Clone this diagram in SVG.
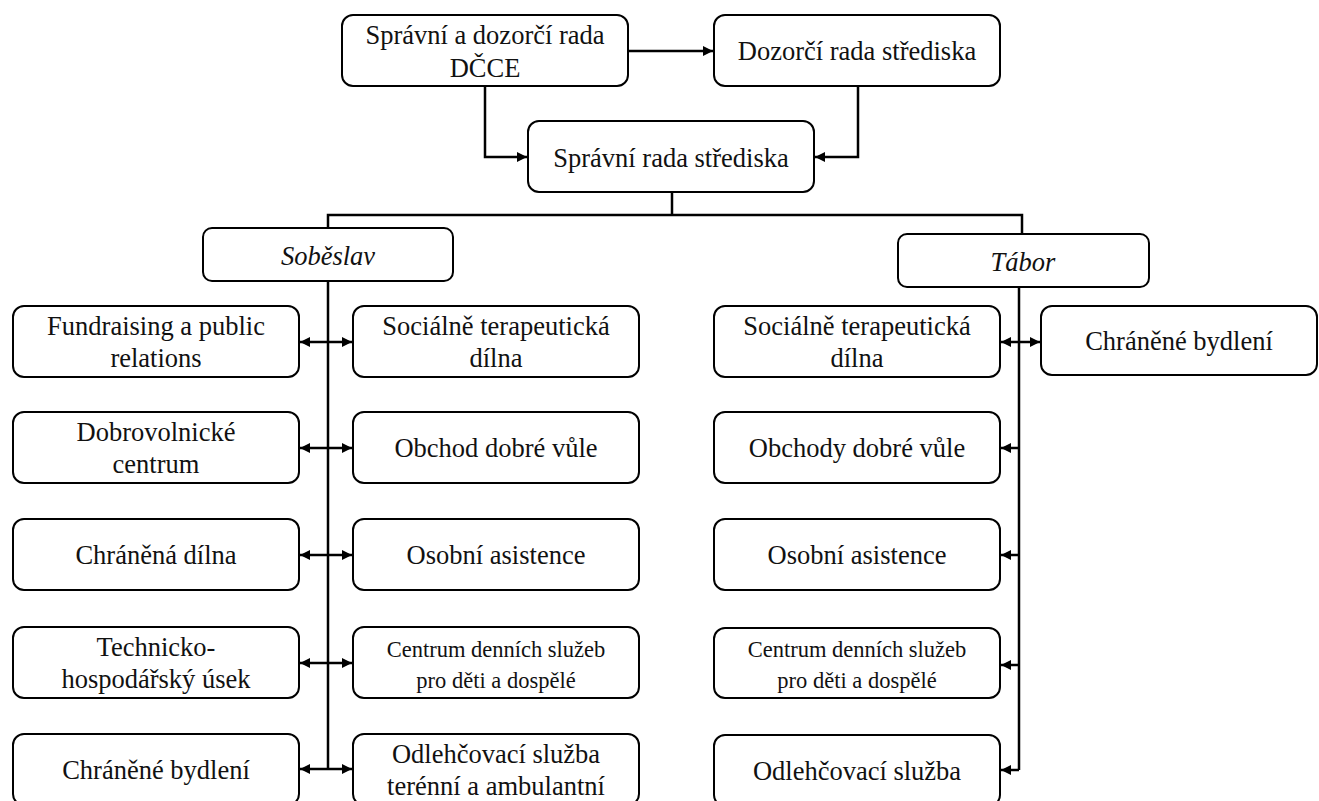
<svg xmlns="http://www.w3.org/2000/svg" width="1319" height="801" viewBox="0 0 1319 801">
<defs>
<marker id="ah" viewBox="0 0 10 10" refX="10" refY="5" markerWidth="4.4" markerHeight="4" orient="auto-start-reverse" markerUnits="strokeWidth">
<path d="M0,0 L10,5 L0,10 z" fill="#000"/>
</marker>
<style>
.box{fill:#fff;stroke:#000;stroke-width:2}
text{font-family:'Liberation Serif','DejaVu Serif','Times New Roman',serif;font-size:26.5px;fill:#111;text-anchor:middle}
.s{font-size:22.5px}
.i{font-style:italic}
.c{fill:none;stroke:#000;stroke-width:2.5}
.a{marker-end:url(#ah)}
.d{marker-start:url(#ah);marker-end:url(#ah)}
</style>
</defs>
<rect width="1319" height="801" fill="#fff"/>
<g id="connectors">
<path class="c a" d="M628,51 H713"/>
<path class="c a" d="M485,86 V157 H527"/>
<path class="c a" d="M858,86 V157 H815"/>
<path class="c" d="M672,192 V215"/>
<path class="c" d="M328,229 V215 H1022 V234"/>
<path class="c" d="M328,281 V769"/>
<path class="c" d="M1019,287 V770"/>
<path class="c d" d="M300,342 H352"/>
<path class="c d" d="M300,448 H352"/>
<path class="c d" d="M300,555 H352"/>
<path class="c d" d="M300,663 H352"/>
<path class="c d" d="M300,769 H352"/>
<path class="c d" d="M1001,342 H1040"/>
<path class="c a" d="M1019,448 H1001"/>
<path class="c a" d="M1019,555 H1001"/>
<path class="c a" d="M1019,665 H1001"/>
<path class="c a" d="M1019,770 H1001"/>
</g>
<g id="n-spravni-dozorci"><rect class="box" x="342" y="15" width="286" height="71" rx="11"/><text x="485" y="44">Správní a dozorčí rada</text><text x="485" y="77">DČCE</text></g>
<g id="n-dozorci"><rect class="box" x="714" y="15" width="286" height="71" rx="11"/><text x="857" y="60">Dozorčí rada střediska</text></g>
<g id="n-spravni"><rect class="box" x="528" y="121" width="286" height="71" rx="11"/><text x="671" y="167">Správní rada střediska</text></g>
<g id="n-sobeslav"><rect class="box" x="203" y="228" width="250" height="53" rx="9"/><text class="i" x="328" y="265">Soběslav</text></g>
<g id="n-tabor"><rect class="box" x="898" y="234" width="251" height="53" rx="9"/><text class="i" x="1023" y="271">Tábor</text></g>
<g id="n-fund"><rect class="box" x="13" y="306" width="286" height="71" rx="11"/><text x="156" y="335">Fundraising a public</text><text x="156" y="367">relations</text></g>
<g id="n-dobro"><rect class="box" x="13" y="412" width="286" height="71" rx="11"/><text x="156" y="441">Dobrovolnické</text><text x="156" y="473">centrum</text></g>
<g id="n-chd"><rect class="box" x="13" y="519" width="286" height="71" rx="11"/><text x="156" y="564">Chráněná dílna</text></g>
<g id="n-tech"><rect class="box" x="13" y="627" width="286" height="71" rx="11"/><text x="156" y="656">Technicko-</text><text x="156" y="688">hospodářský úsek</text></g>
<g id="n-chb-s"><rect class="box" x="13" y="734" width="286" height="71" rx="11"/><text x="156" y="779">Chráněné bydlení</text></g>
<g id="n-std-s"><rect class="box" x="353" y="306" width="286" height="71" rx="11"/><text x="496" y="335">Sociálně terapeutická</text><text x="496" y="367">dílna</text></g>
<g id="n-odv-s"><rect class="box" x="353" y="412" width="286" height="71" rx="11"/><text x="496" y="457">Obchod dobré vůle</text></g>
<g id="n-oa-s"><rect class="box" x="353" y="519" width="286" height="71" rx="11"/><text x="496" y="564">Osobní asistence</text></g>
<g id="n-cds-s"><rect class="box" x="353" y="627" width="286" height="71" rx="11"/><text class="s" x="496" y="657">Centrum denních služeb</text><text class="s" x="496" y="688">pro děti a dospělé</text></g>
<g id="n-ol-s"><rect class="box" x="353" y="734" width="286" height="71" rx="11"/><text x="496" y="763">Odlehčovací služba</text><text x="496" y="795">terénní a ambulantní</text></g>
<g id="n-std-t"><rect class="box" x="714" y="306" width="286" height="71" rx="11"/><text x="857" y="335">Sociálně terapeutická</text><text x="857" y="367">dílna</text></g>
<g id="n-chb-t"><rect class="box" x="1041" y="306" width="276" height="69" rx="11"/><text x="1179" y="350">Chráněné bydlení</text></g>
<g id="n-odv-t"><rect class="box" x="714" y="412" width="286" height="71" rx="11"/><text x="857" y="457">Obchody dobré vůle</text></g>
<g id="n-oa-t"><rect class="box" x="714" y="519" width="286" height="71" rx="11"/><text x="857" y="564">Osobní asistence</text></g>
<g id="n-cds-t"><rect class="box" x="714" y="628" width="286" height="70" rx="11"/><text class="s" x="857" y="657">Centrum denních služeb</text><text class="s" x="857" y="688">pro děti a dospělé</text></g>
<g id="n-ol-t"><rect class="box" x="714" y="735" width="286" height="71" rx="11"/><text x="857" y="780">Odlehčovací služba</text></g>
</svg>
